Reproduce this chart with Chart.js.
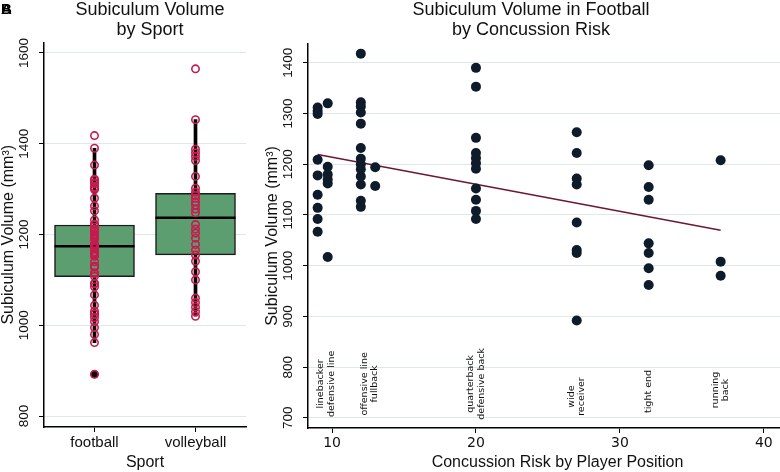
<!DOCTYPE html>
<html>
<head>
<meta charset="utf-8">
<script src="https://cdn.jsdelivr.net/npm/chart.js@4.4.0/dist/chart.umd.min.js"></script>
<style>
    html, body { margin: 0; padding: 0; background: #fff; overflow: hidden; }
    #wrap { position: relative; width: 780px; height: 472px; overflow: hidden; }
    #riskChart { position: absolute; left: 250px; top: 0; }
    #boxChart { position: absolute; left: 0; top: 0; }
    .panel { position: absolute; left: 1px; top: 0; font: bold 15px "Liberation Sans", Arial, sans-serif; color: #000; }
</style>
</head>
<body>
<div id="wrap">
    <canvas id="riskChart" width="562" height="472"></canvas>
    <canvas id="boxChart" width="300" height="472"></canvas>
    <div class="panel">A</div>
    <div class="panel">B</div>
</div>
<script>
// panel A: box plot by sport
const sports = ['football', 'volleyball'];
const boxQ1 = [1107, 1155];
const boxQ3 = [1221, 1291];
const boxMedian = [1174, 1237];
const whiskerLow = [962, 1020];
const whiskerHigh = [1390, 1453];
const footballOutliers = [892];
const volleyball = [1565, 1453, 1388, 1380, 1372, 1363, 1328, 1302, 1293, 1286, 1280, 1272, 1265, 1256,
    1248, 1222, 1212, 1203, 1192, 1178, 1166, 1155, 1141, 1118, 1100, 1060, 1050, 1040, 1030, 1020];
const sportTicks = [800, 1000, 1200, 1400, 1600];

// panel B: football players by position concussion risk
const positionRisk = [9, 9.7, 12, 13, 20, 27, 32, 37];
const linebacker = [1312, 1305, 1299, 1209, 1178, 1140, 1114, 1092, 1067];
const defensiveLine = [1320, 1195, 1180, 1170, 1162, 1017];
const offensiveLine = [1418, 1322, 1314, 1302, 1280, 1232, 1211, 1200, 1190, 1176, 1160, 1128, 1116];
const fullback = [1194, 1157];
const backs = [1390, 1353, 1252, 1222, 1212, 1202, 1191, 1152, 1130, 1108, 1092];
const wideReceiver = [1263, 1222, 1172, 1160, 1085, 1031, 1025, 892];
const tightEnd = [1198, 1155, 1130, 1044, 1025, 995, 962];
const runningBack = [1208, 1008, 980];
const fitX = [9, 37];
const fitY = [1219, 1070];
const riskTicks = [10, 20, 30, 40];
const volumeTicks = [700, 800, 900, 1000, 1100, 1200, 1300, 1400];
const noteNames = [['linebacker', 'defensive line'], ['offensive line', 'fullback'], ['quarterback', 'defensive back'],
    ['wide', 'receiver'], ['tight end'], ['running', 'back']];
const noteX = [9.6, 12.6, 20, 27, 32, 37];
const noteY = [767, 767, 767, 742, 752, 755];

const groups = [linebacker, defensiveLine, offensiveLine, fullback, backs, wideReceiver, tightEnd, runningBack];
const football = [].concat(...groups);

const FONT = '"Liberation Sans", Arial, sans-serif';
const GRID = '#dde8e7';
Chart.defaults.font.family = FONT;
Chart.defaults.color = '#111';

const fixTicks = list => scale => { scale.ticks = list.map(v => ({value: v})); };
const plain = v => String(v);

// ---------- left chart ----------
new Chart(document.getElementById('boxChart'), {
    type: 'bar',
    data: {
        labels: sports,
        datasets: [
            {
                type: 'scatter',
                data: football.map(v => ({x: 'football', y: v}))
                    .concat(volleyball.map(v => ({x: 'volleyball', y: v}))),
                pointRadius: 3.7,
                pointBorderWidth: 1.6,
                pointBorderColor: '#c81a4e',
                pointBackgroundColor: 'rgba(0,0,0,0)'
            },
            {
                type: 'scatter',
                data: footballOutliers.map(v => ({x: 'football', y: v})),
                pointRadius: 4,
                pointBorderWidth: 0,
                pointBackgroundColor: '#000'
            },
            {
                type: 'scatter',
                data: boxMedian.map((v, i) => ({x: sports[i], y: v})),
                pointStyle: 'line',
                pointRadius: 40,
                pointBorderWidth: 2.5,
                pointBorderColor: '#000'
            },
            {
                data: boxQ1.map((v, i) => [v, boxQ3[i]]),
                backgroundColor: '#5c9e70',
                borderColor: '#1b1b1b',
                borderWidth: 1.5,
                borderSkipped: false,
                barThickness: 80,
                grouped: false
            },
            {
                data: whiskerLow.map((v, i) => [v, whiskerHigh[i]]),
                backgroundColor: '#000',
                barThickness: 3,
                grouped: false
            }
        ]
    },
    options: {
        responsive: false,
        animation: false,
        layout: {padding: 0},
        plugins: {
            legend: {display: false},
            tooltip: {enabled: false},
            title: {
                display: true,
                text: ['Subiculum Volume', 'by Sport'],
                color: '#111',
                font: {size: 18, weight: 'normal', lineHeight: 1.12},
                padding: {top: 0, bottom: 2}
            }
        },
        scales: {
            x: {
                type: 'category',
                offset: true,
                grid: {offset: false, drawOnChartArea: false, tickLength: 5, tickColor: '#000'},
                border: {color: '#000', width: 1.5},
                ticks: {font: {size: 15}, padding: 2, color: '#111'},
                title: {display: true, text: 'Sport', font: {size: 16}, padding: {top: 0, bottom: 0}, color: '#111'},
                afterFit: s => { s.height = 45; }
            },
            y: {
                min: 776,
                max: 1623,
                afterBuildTicks: fixTicks(sportTicks),
                grid: {color: GRID, tickLength: 5, tickColor: '#000'},
                border: {color: '#000', width: 1.5},
                ticks: {minRotation: 90, maxRotation: 90, crossAlign: 'center', padding: 0, font: {size: 13.5}, color: '#111', callback: plain},
                title: {display: true, text: 'Subiculum Volume (mm³)', font: {size: 16, lineHeight: 1.1}, padding: 0, color: '#111'},
                afterFit: s => { s.width = 44; }
            },
            // empty right strip so the title centres over the whole panel
            gap: {
                position: 'right',
                grid: {display: false},
                border: {display: false},
                ticks: {display: false},
                afterFit: s => { s.width = 54; }
            }
        }
    }
});

// ---------- right chart ----------
const positionNotes = {
    id: 'positionNotes',
    afterDatasetsDraw(chart) {
        const {ctx, scales: {x, y}} = chart;
        ctx.save();
        ctx.fillStyle = '#111';
        ctx.font = '9.5px "DejaVu Sans"';
        ctx.textAlign = 'center';
        ctx.textBaseline = 'middle';
        noteNames.forEach((lines, i) => {
            ctx.save();
            ctx.translate(x.getPixelForValue(noteX[i]), y.getPixelForValue(noteY[i]));
            ctx.rotate(-Math.PI / 2);
            lines.forEach((t, j) => ctx.fillText(t, 0, (j - (lines.length - 1) / 2) * 10.5));
            ctx.restore();
        });
        ctx.restore();
    }
};

new Chart(document.getElementById('riskChart'), {
    type: 'scatter',
    data: {
        datasets: [
            {
                data: [].concat(...groups.map((g, i) => g.map(v => ({x: positionRisk[i], y: v})))),
                pointRadius: 5,
                pointBorderWidth: 0,
                pointBackgroundColor: '#0d1b2b'
            },
            {
                type: 'line',
                data: fitX.map((v, i) => ({x: v, y: fitY[i]})),
                borderColor: '#6a1834',
                borderWidth: 1.5,
                pointRadius: 0
            }
        ]
    },
    options: {
        responsive: false,
        animation: false,
        layout: {padding: {left: 0, right: 0, top: 0, bottom: 0}},
        plugins: {
            legend: {display: false},
            tooltip: {enabled: false},
            title: {
                display: true,
                text: ['Subiculum Volume in Football', 'by Concussion Risk'],
                color: '#111',
                font: {size: 18, weight: 'normal', lineHeight: 1.12},
                padding: {top: 0, bottom: 3.7}
            }
        },
        scales: {
            x: {
                type: 'linear',
                min: 8.33,
                max: 43,
                afterBuildTicks: fixTicks(riskTicks),
                grid: {drawOnChartArea: false, tickLength: 5, tickColor: '#000'},
                border: {color: '#000', width: 1.5},
                ticks: {font: {size: 14, family: '"DejaVu Sans"'}, padding: 2, color: '#111', callback: plain},
                title: {display: true, text: 'Concussion Risk by Player Position', font: {size: 16}, padding: {top: 0, bottom: 0}, color: '#111'},
                afterFit: s => { s.height = 44; }
            },
            y: {
                min: 680,
                max: 1437,
                afterBuildTicks: fixTicks(volumeTicks),
                grid: {color: GRID, tickLength: 5, tickColor: '#000'},
                border: {color: '#000', width: 1.5},
                ticks: {minRotation: 90, maxRotation: 90, crossAlign: 'center', padding: 0, font: {size: 13.5}, color: '#111', callback: plain},
                title: {display: true, text: 'Subiculum Volume (mm³)', font: {size: 16, lineHeight: 1.1}, padding: {top: 14, bottom: 0}, color: '#111'},
                afterFit: s => { s.width = 58; }
            }
        }
    },
    plugins: [positionNotes]
});
</script>
</body>
</html>
